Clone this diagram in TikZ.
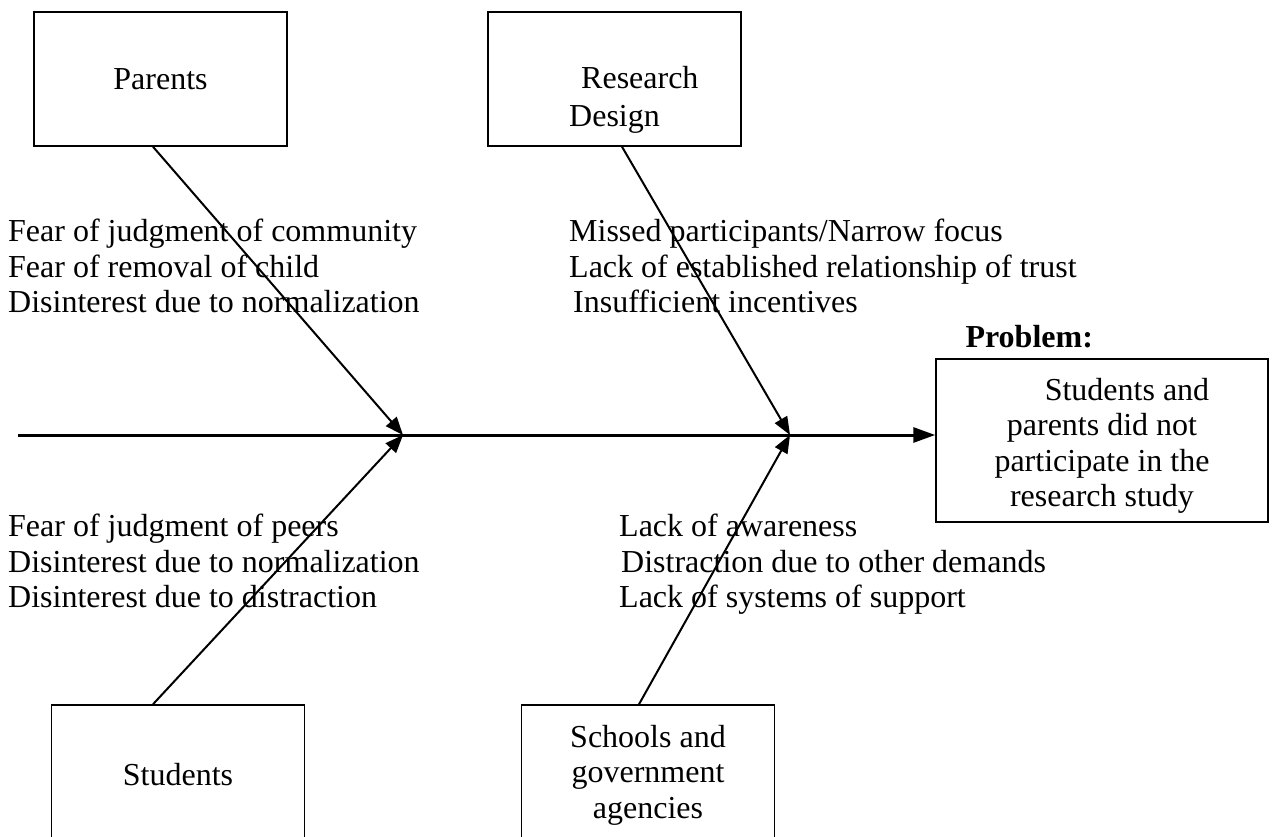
\documentclass[tikz,border=0pt]{standalone}
\usepackage{fontspec}
\setmainfont{Liberation Serif}
\usetikzlibrary{arrows.meta}
\usetikzlibrary{calc}
\usetikzlibrary{positioning}
\tikzset{x=1pt, y=-1pt, % one unit per pixel, y runs down
every node/.style={font=\fontsize{32}{35.5}\selectfont},
cause/.style={ % boxes for the four causes
draw,
line width=1.5pt,
minimum width=253pt,
minimum height=134pt,
align=center},
lowcause/.style={cause, minimum height=140pt}, % cut off by the page edge
effect/.style={ % the problem box
draw,
line width=1.5pt,
minimum width=332pt,
minimum height=163pt,
align=center},
reasons/.style={anchor=north west, align=left, inner sep=0pt},
spine/.style={line width=3pt, -{Triangle[length=22pt,width=15pt]}},
bone/.style={line width=2pt, -{Triangle[length=18pt,width=14pt]}}}

\begin{document}
\begin{tikzpicture}
\useasboundingbox (0,0) rectangle (1274,837);
\clip (0,0) rectangle (1274,837);

% causes
\node[cause] (parents) at (160.5,79) {Parents};
\node[cause] (design) at (614.5,79) {};
\node[reasons] (designtext) at (569,66) {\hspace*{12pt}Research\\[3pt]Design};
\node[lowcause] (students) at (178,775) {Students};
\node[lowcause] (schools) at (648,775) {Schools and\\government\\agencies};

% effect
\node[effect] (problem) at (1102,440.5) {};
\node[align=center] (problemtext) at (1102,446) {\hspace*{50pt}Students and\\parents did not\\participate in the\\research study};
\node[anchor=base west, font=\bfseries\fontsize{32}{35.5}\selectfont] (probtitle) at (962,347) {Problem:};

% spine
\coordinate (tail) at (18,435);
\coordinate (j1) at (403,435);
\coordinate (j2) at (790,435);
\draw[spine] (tail) -- (tail -| problem.west);

% bones
\draw[bone] ($(parents.south)+(-7.5,0)$) -- (j1);
\draw[bone] ($(students.north)+(-25,0)$) -- (j1);
\draw[bone] ($(design.south)+(7.5,0)$) -- (j2);
\draw[bone] ($(schools.north)+(-9,0)$) -- (j2);

% reasons
\node[reasons] (parentlist) at (8,219) {Fear of judgment of community\\Fear of removal of child\\Disinterest due to normalization};
\node[reasons] (designlist) at (569,219) {Missed participants/Narrow focus\\Lack of established relationship of trust\\\hspace*{4pt}Insufficient incentives};
\node[reasons] (studentlist) at (8,514) {Fear of judgment of peers\\Disinterest due to normalization\\Disinterest due to distraction};
\node[reasons] (schoollist) at (619,514) {Lack of awareness\\\hspace*{2pt}Distraction due to other demands\\Lack of systems of support};
\end{tikzpicture}
\end{document}
